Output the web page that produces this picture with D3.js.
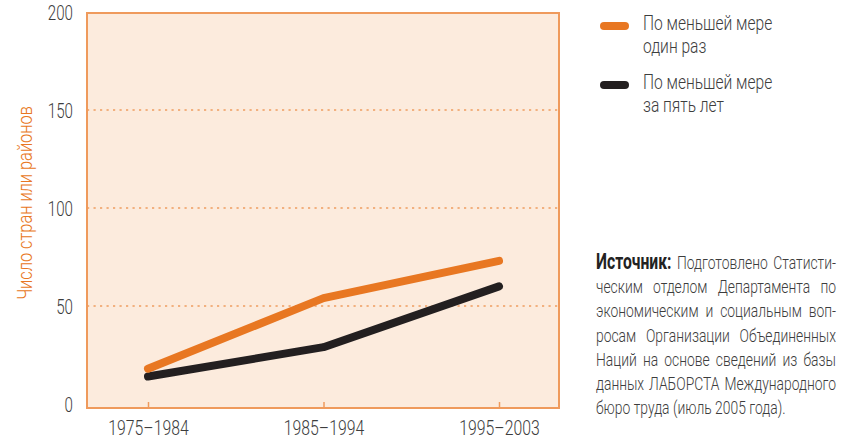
<!DOCTYPE html>
<html><head><meta charset="utf-8">
<script src="https://cdn.jsdelivr.net/npm/d3@7"></script>
<style>
body{margin:0;background:#fff;}
svg{display:block;}
text{font-family:Roboto,"Liberation Sans",sans-serif;font-weight:300;}
</style></head><body>
<svg id="c" width="847" height="439"></svg>
<script>
const categories = ["1975–1984", "1985–1994", "1995–2003"];
const seriesNames = ["По меньшей мере один раз", "По меньшей мере за пять лет"];
const atLeastOnce = [18, 54, 73];
const atLeastFiveYears = [14, 29, 60];
const yTicks = [0, 50, 100, 150, 200];
const yTitle = "Число стран или районов";
const legendLines = [["По меньшей мере", "один раз"], ["По меньшей мере", "за пять лет"]];
const sourceLabel = "Источник:";
const sourceLines = [
  "Подготовлено Статисти-",
  "ческим отделом Департамента по",
  "экономическим и социальным воп-",
  "росам Организации Объединенных",
  "Наций на основе сведений из базы",
  "данных ЛАБОРСТА Международного",
  "бюро труда (июль 2005 года)."
];

const orange = "#e87722", black = "#231f20", border = "#ef9a5c", bg = "#fcebdd", txt = "#3d3d3d";
const svg = d3.select("#c");
const box = {l: 87, r: 559, t: 13, b: 408};

const x = d3.scalePoint().domain(categories).range([148, 499]);
const y = d3.scaleLinear().domain([0, 200]).range([404, 12]);

svg.append("rect").attr("x", box.l).attr("y", box.t).attr("width", box.r - box.l).attr("height", box.b - box.t)
  .attr("fill", bg).attr("stroke", "none");

svg.append("g").selectAll("line").data(yTicks.filter(d => d > 0 && d < 200)).join("line")
  .attr("x1", box.l).attr("x2", box.r).attr("y1", d => y(d)).attr("y2", d => y(d))
  .attr("stroke", orange).attr("stroke-width", 1.2).attr("stroke-dasharray", "2.2,4.3");

svg.append("rect").attr("x", box.l).attr("y", box.t).attr("width", box.r - box.l).attr("height", box.b - box.t)
  .attr("fill", "none").attr("stroke", border).attr("stroke-width", 2);

const yAxis = d3.axisLeft(y).tickValues(yTicks).tickSize(0).tickPadding(0);
const gy = svg.append("g").attr("transform", "translate(73,0)").call(yAxis);
gy.select(".domain").remove();
gy.selectAll("text").attr("font-size", 21).attr("fill", txt).attr("font-family", null)
  .attr("transform", "scale(0.72,1)").attr("dy", "0.36em");

const xAxis = d3.axisBottom(x).tickSize(-6).tickPadding(12);
const gx = svg.append("g").attr("transform", `translate(0,${box.b})`).call(xAxis);
gx.select(".domain").remove();
gx.selectAll("line").attr("stroke", border).attr("stroke-width", 1.5);
gx.selectAll("text").attr("font-size", 20.5).attr("fill", txt).attr("font-family", null)
  .attr("transform", "scale(0.77,1)");

svg.append("text").attr("transform", "translate(32,203) rotate(-90) scale(0.78,1)").attr("text-anchor", "middle")
  .attr("font-size", 21).attr("fill", orange).text(yTitle);

const line = d3.line().x((d, i) => x(categories[i])).y(d => y(d));
[[atLeastFiveYears, black], [atLeastOnce, orange]].forEach(([vals, col]) => {
  svg.append("path").datum(vals).attr("d", line).attr("fill", "none").attr("stroke", col)
    .attr("stroke-width", 8).attr("stroke-linecap", "round").attr("stroke-linejoin", "round");
});

const legCols = [orange, black];
legendLines.forEach((ls, i) => {
  const y0 = 26 + i * 59;
  svg.append("line").attr("x1", 604).attr("x2", 625).attr("y1", y0).attr("y2", y0)
    .attr("stroke", legCols[i]).attr("stroke-width", 8).attr("stroke-linecap", "round");
  const t = svg.append("text").attr("transform", `translate(643,${y0 + 4}) scale(0.8,1)`)
    .attr("font-size", 19.5).attr("fill", txt);
  ls.forEach((s, j) => t.append("tspan").attr("x", 0).attr("y", j * 23).text(s));
});

const sx0 = 596, sx1 = 836, sy0 = 269, lh = 24.2, fs = 19, K = 0.73;
const W = (sx1 - sx0) / K;
sourceLines.forEach((ln, i) => {
  const yy = sy0 + i * lh;
  const g = svg.append("g").attr("transform", `translate(${sx0},${yy}) scale(${K},1)`);
  const items = [];
  if (i === 0) items.push({t: sourceLabel, bold: true});
  ln.split(" ").forEach(w => items.push({t: w, bold: false}));
  const nodes = items.map(it => g.append("text").attr("font-size", it.bold ? 21.5 : fs)
    .style("font-weight", it.bold ? 700 : 300).attr("fill", it.bold ? "#222" : txt).text(it.t));
  const widths = nodes.map(n => n.node().getComputedTextLength());
  const total = d3.sum(widths);
  const last = i === sourceLines.length - 1;
  const gap = last ? fs * 0.25 : (W - total) / (items.length - 1);
  let cx = 0;
  nodes.forEach((n, k) => { n.attr("x", cx); cx += widths[k] + gap; });
});
</script></body></html>
